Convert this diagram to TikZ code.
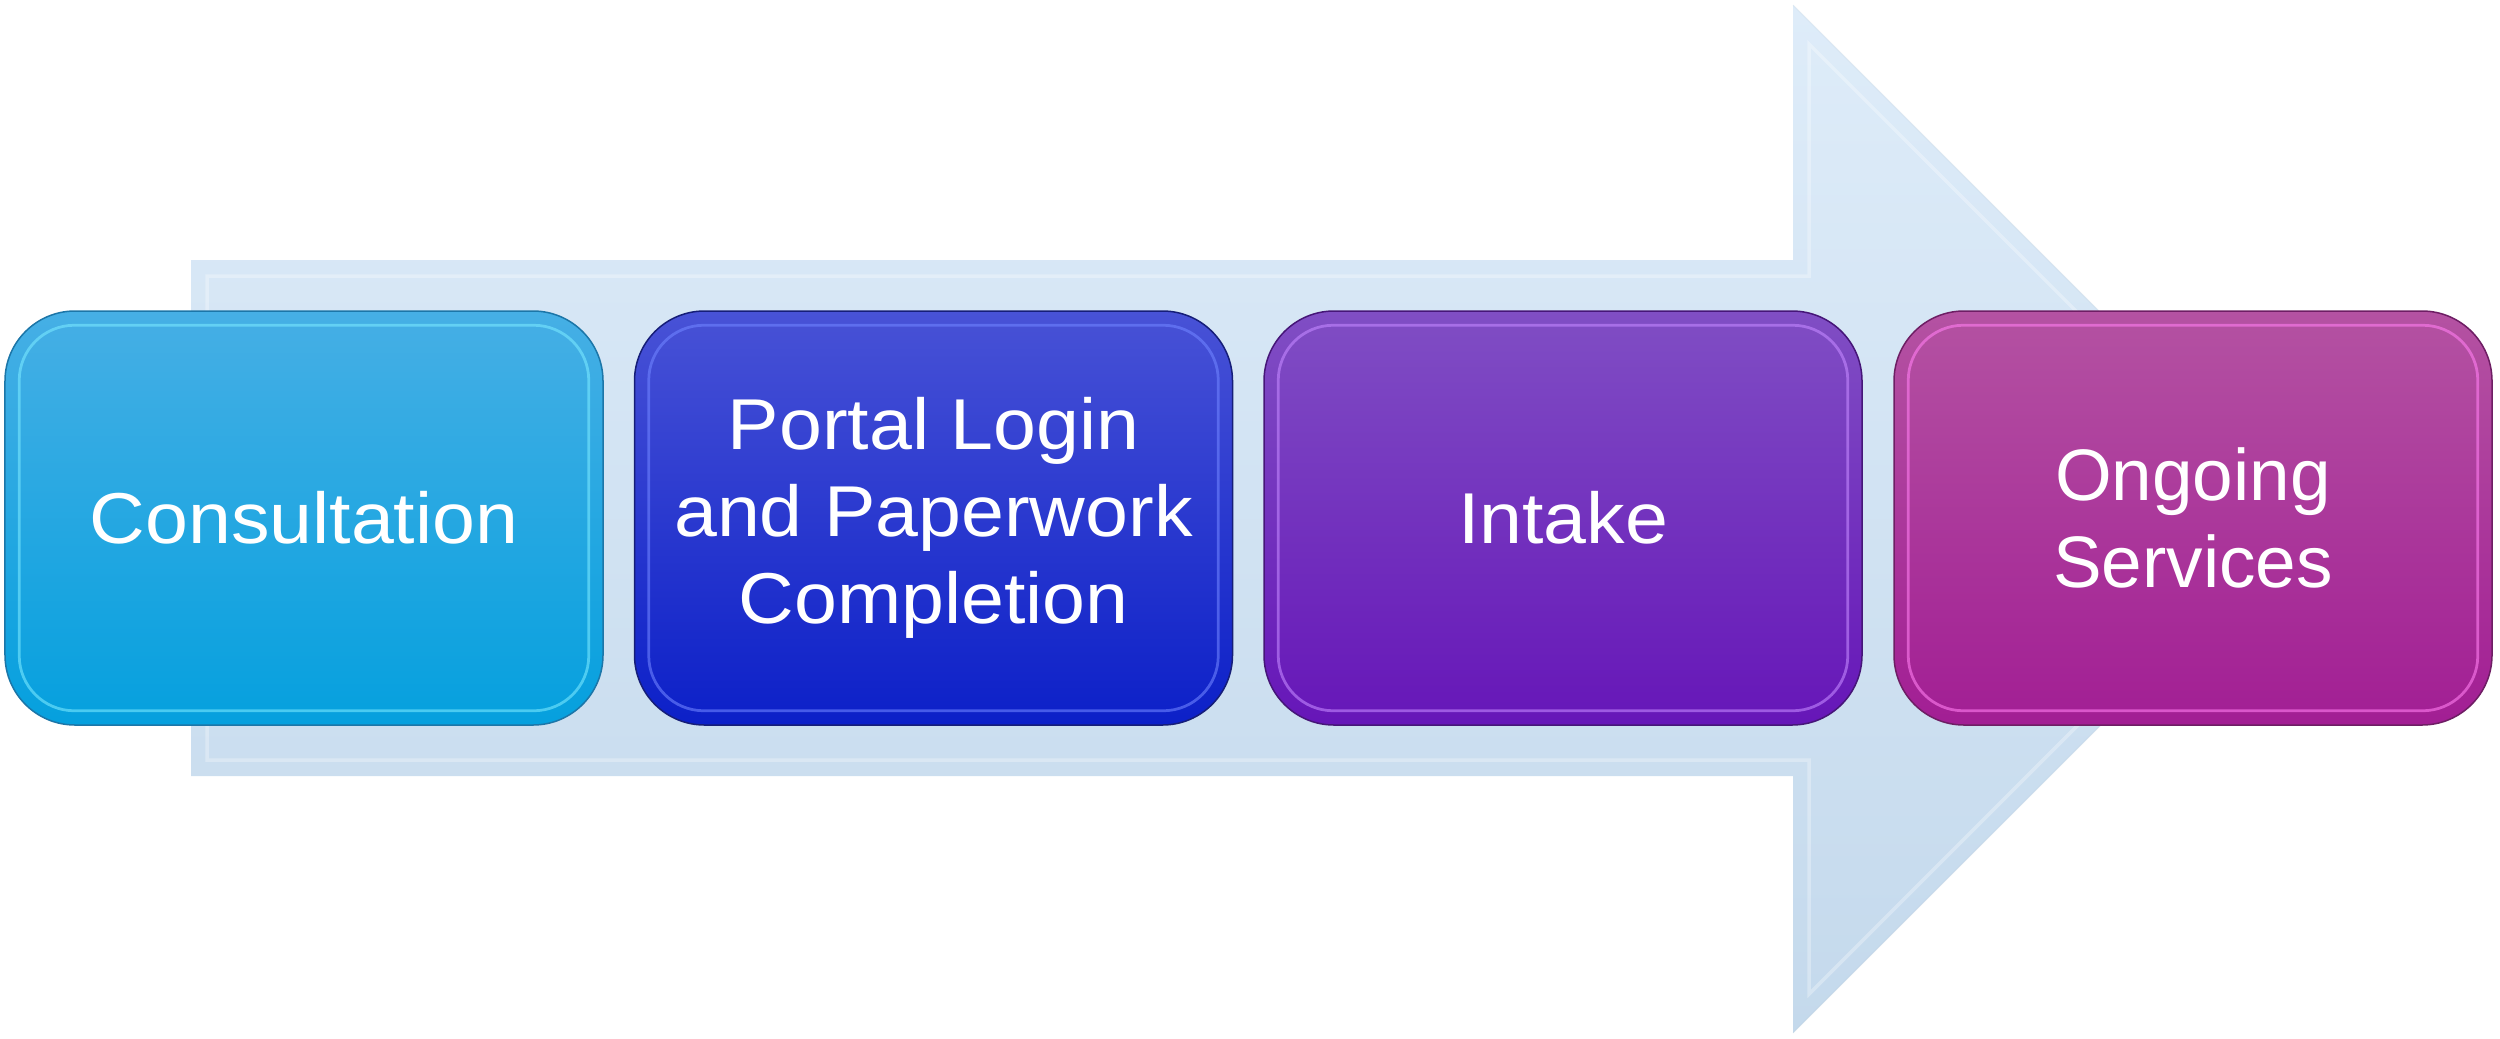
\documentclass[tikz,border=0pt]{standalone}
\usepackage{fontspec}
\setmainfont{Liberation Sans}
\newfontfamily\boxfont{Liberation Sans}[FakeStretch=1.07]
\usetikzlibrary{calc}
\definecolor{arrtop}{RGB}{222,236,249}
\definecolor{arrbot}{RGB}{196,217,236}
\definecolor{aTop}{RGB}{70,175,229}\definecolor{aBot}{RGB}{5,160,222}\definecolor{aEdge}{RGB}{28,118,168}\definecolor{aRim}{RGB}{120,232,255}
\definecolor{bTop}{RGB}{72,82,214}\definecolor{bBot}{RGB}{12,32,200}\definecolor{bEdge}{RGB}{22,30,120}\definecolor{bRim}{RGB}{110,130,255}
\definecolor{cTop}{RGB}{128,78,196}\definecolor{cBot}{RGB}{102,22,184}\definecolor{cEdge}{RGB}{70,22,120}\definecolor{cRim}{RGB}{195,135,255}
\definecolor{dTop}{RGB}{180,82,162}\definecolor{dBot}{RGB}{162,30,148}\definecolor{dEdge}{RGB}{110,30,100}\definecolor{dRim}{RGB}{255,125,240}
\tikzset{
  stepbox/.style={rounded corners=28mm, minimum width=239.2mm, minimum height=165.6mm,
    inner sep=0pt, align=center, text=white, line width=0.6mm,
    font=\boxfont\fontsize{82}{99}\selectfont},
  rim/.style={rounded corners=22mm, line width=1.1mm, opacity=0.6},
}
\begin{document}
\begin{tikzpicture}[x=0.4mm,y=-0.4mm]
\useasboundingbox (0,0) rectangle (2500,1038);
% big arrow
\coordinate (p1) at (191,260);
\coordinate (p2) at (1793,260);
\coordinate (p3) at (1793,5);
\coordinate (p4) at (2307,519);
\coordinate (p5) at (1793,1033);
\coordinate (p6) at (1793,776);
\coordinate (p7) at (191,776);
\shade[top color=arrtop, bottom color=arrbot] (p1) -- (p2) -- (p3) -- (p4) -- (p5) -- (p6) -- (p7) -- cycle;
\draw[white, opacity=0.3, line width=1.4mm, line join=miter]
  (207,276) -- (1809,276) -- (1809,44) -- (2284,519) -- (1809,994) -- (1809,760) -- (207,760) -- cycle;
\draw[arrbot!80!black, opacity=0.12, line width=0.5mm] (p3) -- (p4) -- (p5);
% boxes
\node[stepbox, draw=aEdge, top color=aTop, bottom color=aBot] (b1) at (304,518) {Consultation};
\node[stepbox, draw=bEdge, top color=bTop, bottom color=bBot] (b2) at (933.5,518) {Portal Login\\and Paperwork\\Completion};
\node[stepbox, draw=cEdge, top color=cTop, bottom color=cBot] (b3) at (1563,518) {Intake};
\node[stepbox, draw=dEdge, top color=dTop, bottom color=dBot,
      font=\fontsize{83}{99}\selectfont] (b4) at (2193,518) {Ongoing\\Services};
% bevel rims
\foreach \b/\c in {b1/aRim,b2/bRim,b3/cRim,b4/dRim}{
  \draw[rim, draw=\c] ($(\b.north west)+(15,15)$) rectangle ($(\b.south east)+(-15,-15)$);
}
\end{tikzpicture}
\end{document}
